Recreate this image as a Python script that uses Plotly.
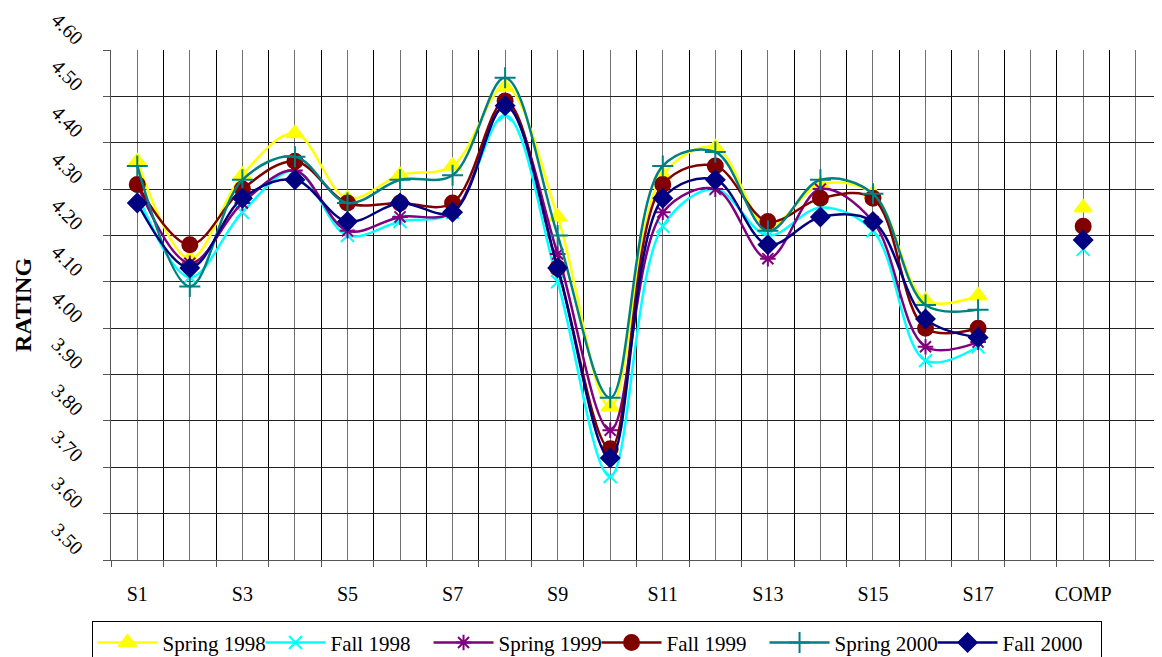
import plotly.graph_objects as go

# categories (an empty slot separates S17 from COMP)
labels = ['S1', 'S2', 'S3', 'S4', 'S5', 'S6', 'S7', 'S8', 'S9', 'S10', 'S11', 'S12',
          'S13', 'S14', 'S15', 'S16', 'S17', '', 'COMP']

spring_1998 = [4.36, 4.15, 4.33, 4.42, 4.28, 4.33, 4.35, 4.52, 4.24, 3.83, 4.33, 4.39,
               4.22, 4.31, 4.29, 4.06, 4.07, None, 4.26]
fall_1998 = [4.29, 4.11, 4.25, 4.34, 4.20, 4.23, 4.25, 4.46, 4.10, 3.68, 4.22, 4.30,
             4.20, 4.26, 4.21, 3.93, 3.96, None, 4.17]
spring_1999 = [4.31, 4.14, 4.27, 4.34, 4.21, 4.24, 4.25, 4.48, 4.16, 3.78, 4.25, 4.30,
               4.15, 4.30, 4.23, 3.96, 3.97, None, None]
fall_1999 = [4.31, 4.18, 4.30, 4.36, 4.27, 4.27, 4.27, 4.49, 4.13, 3.74, 4.31, 4.35,
             4.23, 4.28, 4.28, 4.00, 4.00, None, 4.22]
spring_2000 = [4.35, 4.09, 4.32, 4.37, 4.27, 4.32, 4.33, 4.54, 4.20, 3.85, 4.35, 4.38,
               4.21, 4.32, 4.29, 4.05, 4.04, None, None]
fall_2000 = [4.27, 4.13, 4.28, 4.32, 4.23, 4.27, 4.25, 4.48, 4.13, 3.72, 4.28, 4.32,
             4.18, 4.24, 4.23, 4.02, 3.98, None, 4.19]

y_ticks = [3.5, 3.6, 3.7, 3.8, 3.9, 4.0, 4.1, 4.2, 4.3, 4.4, 4.5, 4.6]

series = [
    ('Spring 1998', spring_1998, '#FFFF00', 'triangle-up', 15),
    ('Fall 1998', fall_1998, '#00FFFF', 'x-thin', 13),
    ('Spring 1999', spring_1999, '#800080', 'asterisk', 13),
    ('Fall 1999', fall_1999, '#800000', 'circle', 15),
    ('Spring 2000', spring_2000, '#008080', 'cross-thin', 15),
    ('Fall 2000', fall_2000, '#000080', 'diamond', 14),
]

n_slots = len(labels) + 1
x = list(range(len(labels)))
tick_text = [(labels[i] if i % 2 == 0 else '') if i < len(labels) else '' for i in range(n_slots)]

fig = go.Figure()
for name, vals, color, symbol, size in series:
    fig.add_trace(go.Scatter(
        x=x, y=vals, name=name, mode='lines+markers', connectgaps=False,
        line=dict(color=color, width=2.5, shape='spline', smoothing=1),
        marker=dict(symbol=symbol, size=size, color=color, line=dict(color=color, width=2)),
    ))

# page body adds an 8px offset, so the figure is 16px smaller than the window
font = 'Liberation Serif, Times New Roman, serif'
fig.update_layout(
    width=1154, height=649,
    margin=dict(l=103, r=0, t=42, b=97, autoexpand=False),
    paper_bgcolor='white', plot_bgcolor='white',
    font=dict(family=font, size=20, color='black'),
    showlegend=True,
    legend=dict(
        orientation='h', xref='container', yref='container',
        x=0.51, xanchor='center', y=0.055, yanchor='top',
        bordercolor='black', borderwidth=1, font=dict(size=21),
        itemwidth=60, entrywidth=93, entrywidthmode='pixels',
    ),
)
fig.update_xaxes(
    range=[-0.5, n_slots - 0.5], tickmode='array',
    tickvals=list(range(n_slots)), ticktext=tick_text,
    showgrid=True, gridcolor='#707070', gridwidth=1, ticks='',
    showline=True, linecolor='#555555', linewidth=1,
    ticklabelstandoff=16, zeroline=False, automargin=False,
    minor=dict(tickmode='linear', tick0=-0.5, dtick=1, showgrid=True,
               gridcolor='black', gridwidth=1, ticks='outside', ticklen=6,
               tickcolor='#555555'),
)
fig.update_yaxes(
    range=[3.5, 4.6], tickmode='array', tickvals=y_ticks,
    ticktext=['%.2f' % v for v in y_ticks], tickangle=45,
    showgrid=True, gridcolor='#222222', gridwidth=1,
    ticks='outside', ticklen=7, tickcolor='#555555',
    showline=True, linecolor='#555555', linewidth=1, zeroline=False,
    ticklabelshift=-8, ticklabelstandoff=17, ticklabeloverflow='allow',
    automargin=False,
    title=dict(text='<b>RATING</b>', font=dict(size=24), standoff=8),
)

fig.write_html('out.html')
